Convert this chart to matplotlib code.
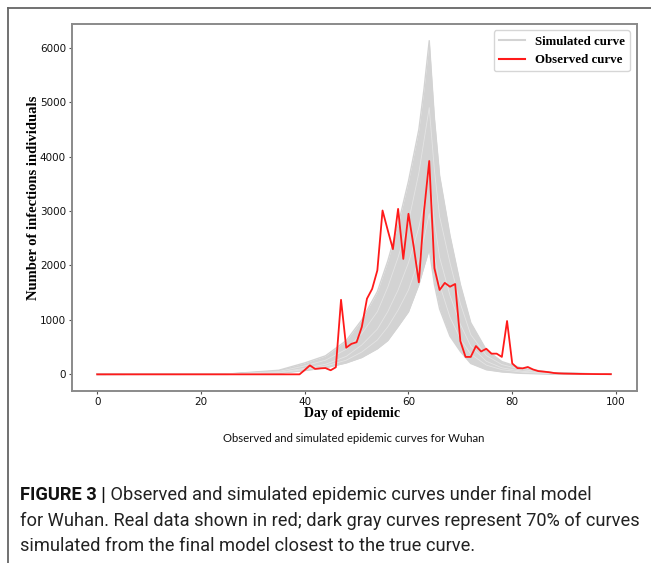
import matplotlib
matplotlib.use('Agg')
import matplotlib.pyplot as plt
from matplotlib.lines import Line2D

# ---------------- data ----------------
days = list(range(100))
observed = ([0] * 40 +
            [80, 165, 100, 110, 115, 75, 130, 1370, 490, 560,
             590, 870, 1390, 1570, 1910, 3010, 2650, 2300, 3040, 2120,
             2950, 2350, 1690, 3000, 3920, 1950, 1550, 1680, 1610, 1660,
             610, 320, 320, 520, 420, 470, 380, 380, 320, 980,
             200, 115, 110, 135, 90, 60, 50, 40, 25, 18,
             14, 12, 10, 8, 7, 6, 5, 4, 4, 3])

sim_days = [0, 25, 35, 40, 44, 48, 51, 54, 56, 58, 60, 62, 63, 64,
            65, 66, 68, 70, 72, 75, 78, 82, 88, 99]
sim_upper = [0, 5, 75, 210, 340, 620, 1000, 1520, 2080, 2750, 3550, 4500, 5250, 6130,
             4700, 3650, 2550, 1650, 950, 450, 235, 110, 30, 3]
sim_c2 = [0, 4, 60, 175, 290, 520, 850, 1300, 1800, 2400, 3150, 4100, 4800, 5500,
          4200, 3250, 2300, 1480, 830, 395, 205, 97, 25, 2]
sim_c3 = [0, 4, 52, 155, 260, 460, 750, 1150, 1600, 2150, 2800, 3700, 4300, 4900,
          3750, 2900, 2050, 1300, 730, 345, 180, 85, 22, 2]
sim_c4 = [0, 3, 46, 140, 235, 420, 680, 1050, 1450, 1950, 2550, 3350, 3900, 4500,
          3400, 2650, 1850, 1170, 660, 310, 160, 75, 20, 2]
sim_c5 = [0, 3, 40, 125, 210, 375, 610, 940, 1300, 1750, 2300, 3000, 3500, 4100,
          3100, 2400, 1650, 1050, 590, 275, 140, 65, 17, 1]
sim_c6 = [0, 2, 35, 110, 185, 330, 540, 830, 1150, 1550, 2050, 2700, 3150, 3700,
          2800, 2150, 1450, 920, 520, 240, 120, 55, 14, 1]
sim_c7 = [0, 2, 30, 100, 165, 290, 470, 720, 1000, 1350, 1800, 2400, 2800, 3300,
          2500, 1900, 1250, 790, 440, 205, 100, 45, 12, 1]
sim_c8 = [0, 1, 27, 90, 150, 260, 410, 630, 870, 1180, 1550, 2100, 2500, 2950,
          2200, 1650, 1050, 650, 370, 170, 85, 38, 10, 1]
sim_c9 = [0, 1, 24, 80, 135, 235, 360, 550, 740, 1020, 1340, 1850, 2200, 2600,
          1900, 1400, 870, 530, 300, 135, 68, 30, 8, 0]
sim_lower = [0, 0, 20, 70, 120, 210, 310, 470, 620, 880, 1150, 1650, 1980, 2300,
             1650, 1200, 700, 420, 200, 85, 45, 18, 5, 0]
sim_curves = [sim_upper, sim_c2, sim_c3, sim_c4, sim_c5, sim_c6, sim_c7, sim_c8, sim_c9, sim_lower]
streak_curves = [sim_c3, sim_c6, sim_c8]

x_ticks = [0, 20, 40, 60, 80, 100]
y_ticks = [0, 1000, 2000, 3000, 4000, 5000, 6000]

xlabel = "Day of epidemic"
ylabel = "Number of infections individuals"
legend_labels = ["Simulated curve", "Observed curve"]
subtitle = "Observed and simulated epidemic curves for Wuhan"
cap_bold = "FIGURE 3 |"
cap_line1 = " Observed and simulated epidemic curves under final model"
cap_line2 = "for Wuhan. Real data shown in red; dark gray curves represent 70% of curves"
cap_line3 = "simulated from the final model closest to the true curve."

# ---------------- figure ----------------
W, H = 651, 563
fig = plt.figure(figsize=(W / 100, H / 100), dpi=100)
fig.patch.set_facecolor('white')

# outer panel border (top and left)
fig.add_artist(Line2D([8 / W, 8 / W], [0, 1 - 7.5 / H], transform=fig.transFigure,
                      color='#666666', lw=1.3))
fig.add_artist(Line2D([8 / W, 1], [1 - 7.5 / H, 1 - 7.5 / H], transform=fig.transFigure,
                      color='#666666', lw=1.3))

ax_l, ax_r, ax_t, ax_b = 71.5, 636.5, 24, 391
ax = fig.add_axes([ax_l / W, 1 - ax_b / H, (ax_r - ax_l) / W, (ax_b - ax_t) / H])

gray = '#d3d3d3'
ax.fill_between(sim_days, sim_lower, sim_upper, color=gray, lw=0, zorder=1)
for c in sim_curves:
    ax.plot(sim_days, c, color=gray, lw=1.0, zorder=2)
for c in streak_curves:
    ax.plot(sim_days, c, color='#e4e4e4', lw=0.6, zorder=2)
ax.plot(days, observed, color='#ff1a1a', lw=1.3, zorder=3)

ax.set_xlim(-4.95, 103.95)
ax.set_ylim(-306, 6436)
ax.set_xticks(x_ticks)
ax.set_yticks(y_ticks)
ax.tick_params(labelsize=7.5, length=2.5, width=0.8, color='#555555', labelcolor='#111111')
ax.tick_params(axis='x', pad=1.5)
ax.tick_params(axis='y', pad=1.5)
for s in ax.spines.values():
    s.set_color('#8a8a8a')
    s.set_linewidth(1.4)

serif = ['Liberation Serif', 'DejaVu Serif']
ax.set_xlabel(xlabel, fontdict=dict(family=serif, weight='bold', size=10))
ax.set_ylabel(ylabel, fontdict=dict(family=serif, weight='bold', size=10.5))
ax.xaxis.set_label_coords((352 - ax_l) / (ax_r - ax_l), -(407.5 - ax_b) / (ax_b - ax_t))
ax.yaxis.set_label_coords(-(ax_l - 40) / (ax_r - ax_l), (ax_b - 198) / (ax_b - ax_t))

handles = [Line2D([], [], color=gray, lw=1.5), Line2D([], [], color='#ff1a1a', lw=1.5)]
leg = ax.legend(handles, legend_labels, loc='upper right',
                prop=dict(family=serif, weight='bold', size=9.3),
                frameon=True, borderaxespad=0.5, handlelength=2.0)
leg.get_frame().set_edgecolor('#cccccc')

fig.text(354 / W, 1 - 438 / H, subtitle, ha='center', va='center',
         family=['Lato', 'DejaVu Sans'], size=8.2, color='#111111')

cap_font = ['Liberation Sans Narrow', 'Roboto', 'DejaVu Sans']
renderer = fig.canvas.get_renderer()
t2 = fig.text(20 / W, 1 - 521 / H, cap_line2, ha='left', va='center',
              family=cap_font, size=12, color='#222222')
w = t2.get_window_extent(renderer).width
fs = 12 * 617 / w
t2.set_fontsize(fs)
tb = fig.text(20 / W, 1 - 495 / H, cap_bold, ha='left', va='center',
              family=cap_font, weight='bold', size=fs, color='#111111')
bw = tb.get_window_extent(renderer).x1
fig.text(bw / W, 1 - 495 / H, cap_line1, ha='left', va='center',
         family=cap_font, size=fs, color='#222222')
fig.text(20 / W, 1 - 546 / H, cap_line3, ha='left', va='center',
         family=cap_font, size=fs, color='#222222')

fig.savefig('out.png', dpi=100)
